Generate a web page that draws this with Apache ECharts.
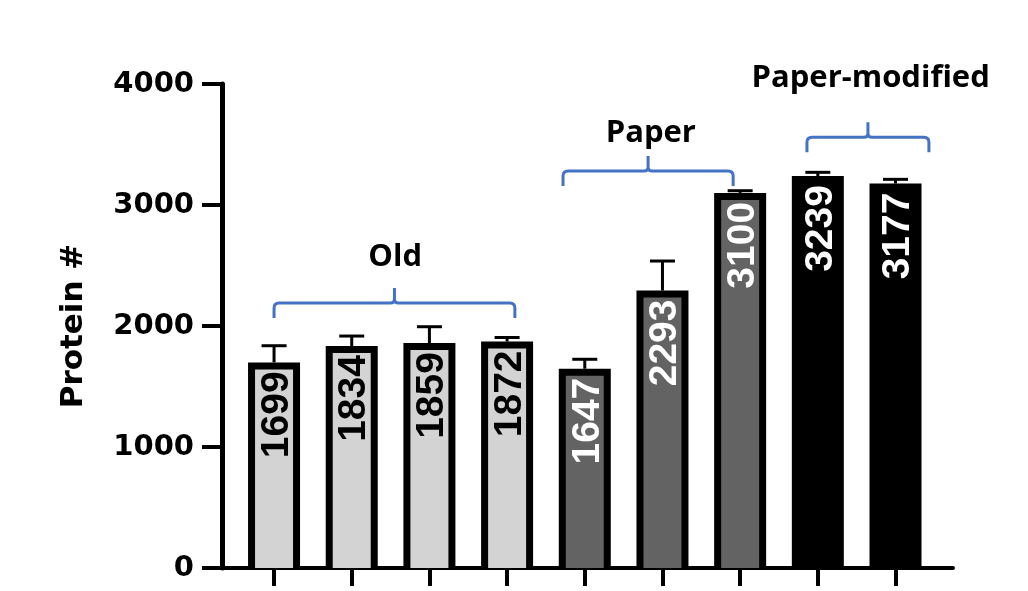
<!DOCTYPE html>
<html>
<head>
<meta charset="utf-8">
<script src="https://cdn.jsdelivr.net/npm/echarts@6/dist/echarts.min.js"></script>
<style>
html,body{margin:0;padding:0;background:#fff;}
#chart{width:1028px;height:591px;}
</style>
</head>
<body>
<div id="chart"></div>
<script>
// ---- data ----
const categories = ['Old 1','Old 2','Old 3','Old 4','Paper 1','Paper 2','Paper 3','Paper-modified 1','Paper-modified 2'];
const values = [1699, 1834, 1859, 1872, 1647, 2293, 3100, 3239, 3177];
const errors = [138, 83, 135, 33, 78, 244, 18, 31, 35];
const groupOf = [0, 0, 0, 0, 1, 1, 1, 2, 2];
const groupNames = ['Old', 'Paper', 'Paper-modified'];
// bracket extent in category units and height in value units
const bracketStart = [0.0, 3.72, 6.86];
const bracketEnd = [3.1, 5.91, 8.43];
const bracketY = [2190, 3280, 3560];
const bracketLabelX = [1.56, 4.85, 7.68];
const bracketLabelY = [2570, 3590, 4050];
const yTicks = [0, 1000, 2000, 3000, 4000];

// ---- styles ----
const fillColors = ['#D3D3D3', '#636363', '#000000'];
const labelColors = ['#000000', '#FFFFFF', '#FFFFFF'];
const bracketColor = '#4472C4';

const barData = values.map((v, i) => [i, v, errors[i], groupOf[i]]);
const bracketData = groupNames.map((n, k) => [bracketStart[k], bracketEnd[k], bracketY[k], bracketLabelX[k], bracketLabelY[k], k]);

const chart = echarts.init(document.getElementById('chart'), null, {renderer: 'canvas'});

function renderBar(params, api) {
  const i = api.value(0), v = api.value(1), e = api.value(2), g = api.value(3);
  const top = api.coord([i, v]);
  const base = api.coord([i, 0]);
  const et = api.coord([i, v + e]);
  const w = 52, b = 7, cap = 25;
  const x = top[0];
  return {
    type: 'group',
    children: [
      {type: 'line', shape: {x1: x, y1: top[1], x2: x, y2: et[1]}, style: {stroke: '#000', lineWidth: 3}},
      {type: 'line', shape: {x1: x - cap / 2, y1: et[1], x2: x + cap / 2, y2: et[1]}, style: {stroke: '#000', lineWidth: 3}},
      {type: 'rect', shape: {x: x - w / 2, y: top[1], width: w, height: base[1] - top[1]}, style: {fill: '#000'}},
      {type: 'rect', shape: {x: x - w / 2 + b, y: top[1] + b, width: w - 2 * b, height: base[1] - top[1] - b}, style: {fill: fillColors[g]}},
      {type: 'text', x: x + 3, y: top[1] + 9, rotation: Math.PI / 2,
        style: {text: String(values[i]), fill: labelColors[g], font: 'bold 39px "Liberation Sans", Arial, sans-serif', align: 'right', verticalAlign: 'middle'}}
    ]
  };
}

function renderBracket(params, api) {
  const x1 = api.coord([api.value(0), api.value(2)]);
  const x2 = api.coord([api.value(1), api.value(2)]);
  const xc = (x1[0] + x2[0]) / 2;
  const yh = x1[1];
  const d = 15, r = 5;
  const k = api.value(5);
  const p = [
    'M', x1[0], yh + d, 'L', x1[0], yh + r, 'Q', x1[0], yh, x1[0] + r, yh,
    'L', xc - 4, yh, 'Q', xc, yh, xc, yh - 4, 'L', xc, yh - d,
    'M', xc, yh - 4, 'Q', xc, yh, xc + 4, yh,
    'L', x2[0] - r, yh, 'Q', x2[0], yh, x2[0], yh + r, 'L', x2[0], yh + d
  ].join(' ');
  const lp = api.coord([api.value(3), api.value(4)]);
  return {
    type: 'group',
    children: [
      {type: 'path', shape: {pathData: p}, style: {stroke: bracketColor, lineWidth: 3, fill: null}},
      {type: 'text', x: lp[0], y: lp[1], style: {text: groupNames[k], fill: '#000', font: 'bold 31px "Open Sans", sans-serif', align: 'center', verticalAlign: 'middle'}}
    ]
  };
}

chart.setOption({
  animation: false,
  backgroundColor: '#fff',
  grid: {left: 222, right: 75, top: 84, bottom: 23, containLabel: false},
  xAxis: {
    type: 'value', min: -0.67, max: 8.74,
    axisLine: {show: true, onZero: false, lineStyle: {color: '#000', width: 4}},
    axisTick: {show: true, customValues: categories.map((c, i) => i), length: 18, lineStyle: {color: '#000', width: 4}},
    axisLabel: {show: false},
    splitLine: {show: false}
  },
  yAxis: {
    type: 'value', min: 0, max: 4000, interval: 1000,
    name: 'Protein #', nameLocation: 'middle', nameGap: 133, nameRotate: 90,
    nameTextStyle: {color: '#000', fontFamily: 'DejaVu Sans', fontWeight: 'bold', fontSize: 31},
    axisLine: {show: true, onZero: false, lineStyle: {color: '#000', width: 5}},
    axisTick: {show: true, length: 20, lineStyle: {color: '#000', width: 4}},
    axisLabel: {color: '#000', fontFamily: 'DejaVu Sans', fontWeight: 'bold', fontSize: 29, margin: 28,
      customValues: yTicks, formatter: (v) => String(v)},
    splitLine: {show: false}
  },
  series: [
    {type: 'custom', name: 'bars', data: barData, renderItem: renderBar, clip: false, encode: {x: 0, y: 1}},
    {type: 'custom', name: 'brackets', data: bracketData, renderItem: renderBracket, clip: false, encode: {x: [0, 1], y: 2}}
  ]
});
</script>
</body>
</html>
